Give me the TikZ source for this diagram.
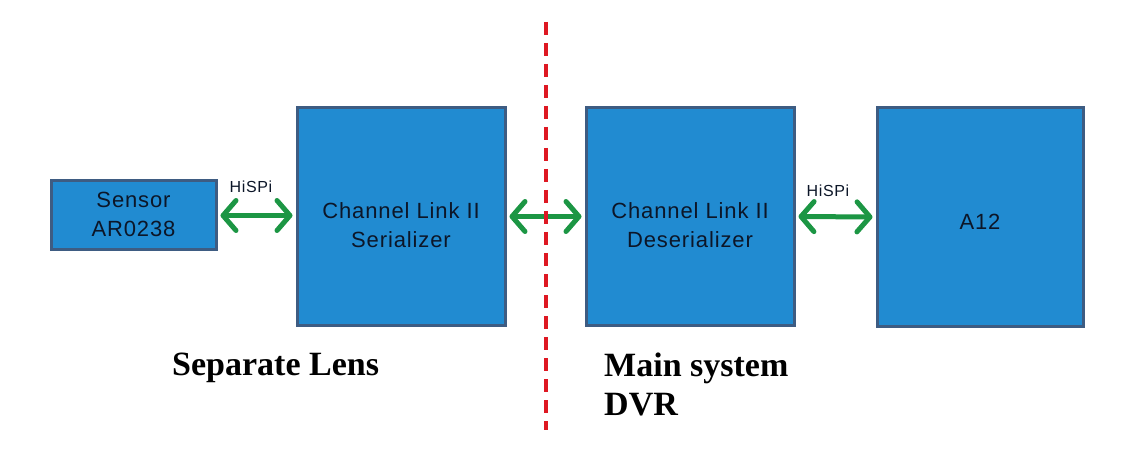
\documentclass[tikz,border=0pt]{standalone}
\usepackage{fontspec}
\setmainfont{Liberation Serif}
\newfontfamily\boxfont[LetterSpace=4]{Liberation Sans}
\usetikzlibrary{arrows.meta}
\definecolor{boxfill}{RGB}{33,139,209}
\definecolor{boxedge}{RGB}{62,92,130}
\definecolor{boxtext}{RGB}{12,22,40}
\definecolor{linkgreen}{RGB}{28,150,68}
\definecolor{cutred}{RGB}{222,24,34}
\tikzset{
  blockbox/.style={draw=boxedge, fill=boxfill, line width=3pt, inner sep=0pt},
  blocktext/.style={text=boxtext, align=center, font=\boxfont\fontsize{22}{29}\selectfont, inner sep=0pt},
  linkarrow/.style={draw=linkgreen, line width=5pt, line cap=round,
    {Straight Barb[length=13pt,width=30pt,line cap=round,line join=round]}-{Straight Barb[length=13pt,width=30pt,line cap=round,line join=round]},
    shorten <=3pt, shorten >=3pt},
  linklabel/.style={text=boxtext, font=\boxfont\fontsize{16}{18}\selectfont, inner sep=0pt},
  sidelabel/.style={font=\bfseries\fontsize{34}{39}\selectfont, inner sep=0pt, align=left, text=black},
  cutline/.style={draw=cutred, line width=4pt, dash pattern=on 13pt off 8pt}
}
\begin{document}
\begin{tikzpicture}[x=1pt,y=-1pt]
\useasboundingbox[fill=white] (0,0) rectangle (1130,449);
\node[blockbox, minimum width=165pt, minimum height=69pt] (sensor) at (133.5,215.5) {};
\node[blockbox, minimum width=208pt, minimum height=217pt] (ser) at (401,216.5) {};
\node[blockbox, minimum width=208pt, minimum height=217pt] (des) at (690,216.5) {};
\node[blockbox, minimum width=206pt, minimum height=218pt] (a12) at (980,217) {};
\node[blocktext] (sensorT) at (133.5,214) {Sensor\\AR0238};
\node[blocktext] (serT) at (401,225) {Channel Link II\\Serializer};
\node[blocktext] (desT) at (690,225) {Channel Link II\\Deserializer};
\node[blocktext] (a12T) at (980,222) {A12};
\draw[linkarrow] (sensor.east) -- (sensor.east -| ser.west);
\draw[linkarrow] (ser.east) -- (des.west);
\draw[linkarrow] (des.east) -- (a12.west);
\node[linklabel] (hl) at (251,187) {HiSPi};
\node[linklabel] (hr) at (828,191) {HiSPi};
\coordinate (cuttop) at (546,22);
\coordinate (cutbot) at (546,430);
\draw[cutline] (cuttop) -- (cutbot);
\node[sidelabel, anchor=base west] (lens) at (172,375) {Separate Lens};
\node[sidelabel, anchor=base west] (main) at (604,376) {Main system};
\node[sidelabel, anchor=base west] (dvr) at (604,415) {DVR};
\end{tikzpicture}
\end{document}
